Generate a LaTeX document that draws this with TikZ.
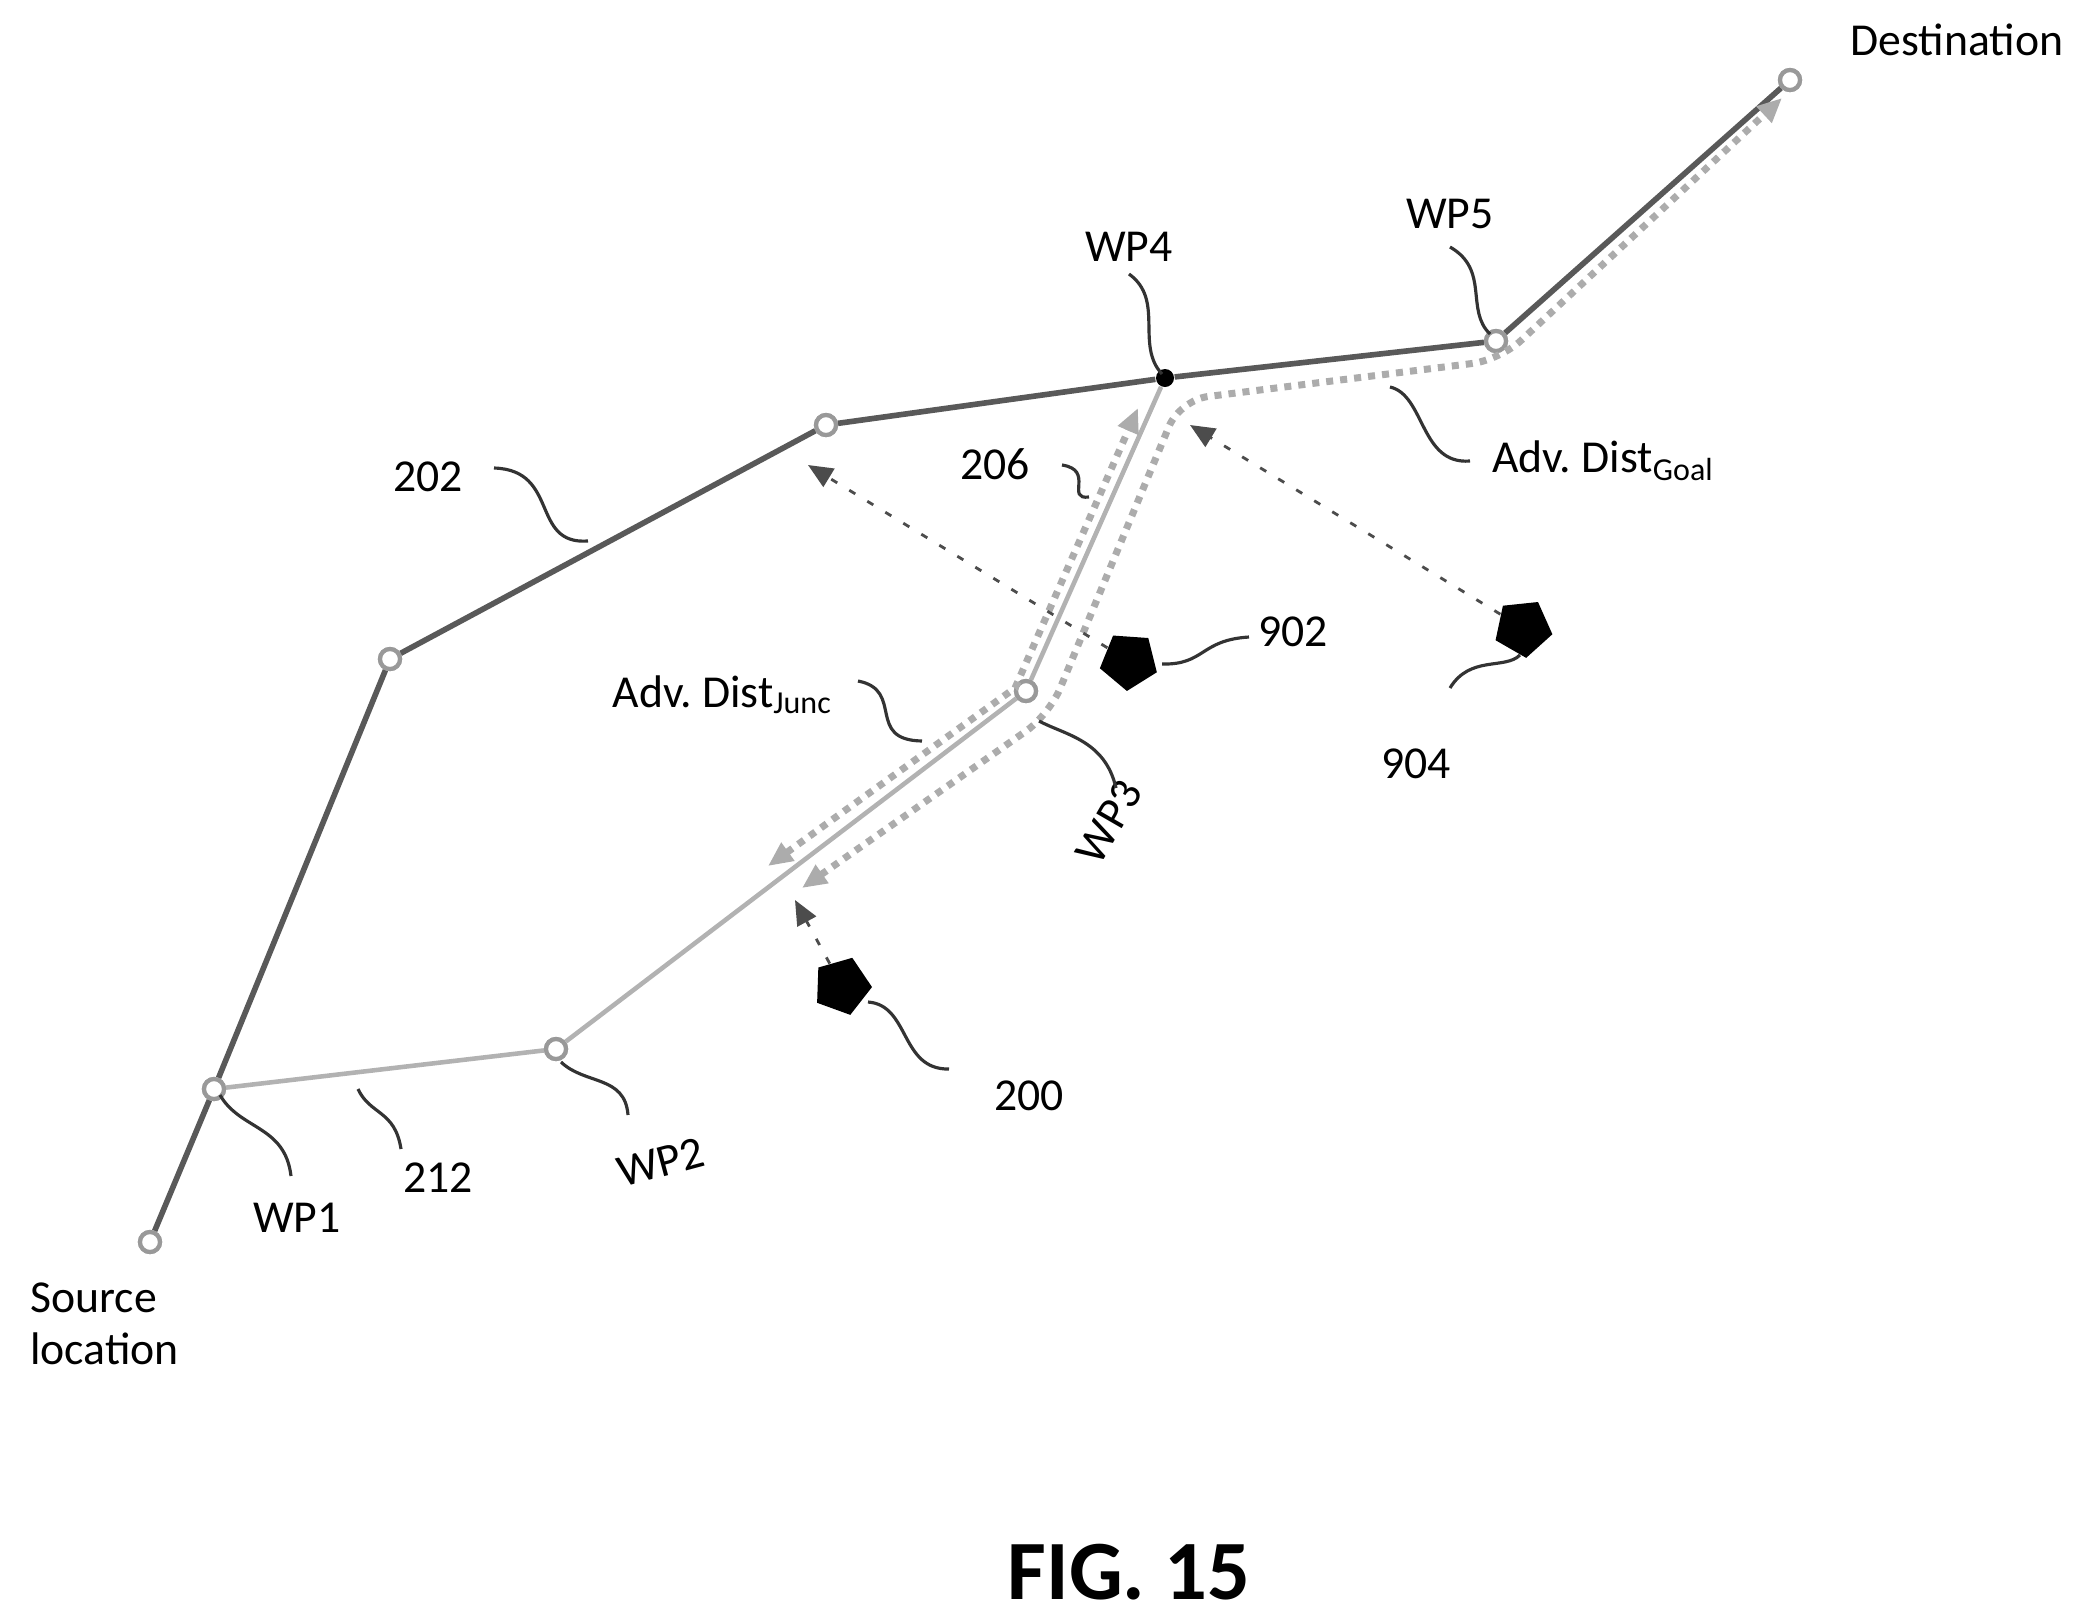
\documentclass[tikz,border=0pt]{standalone}
\usepackage{fontspec}
\setmainfont{Carlito}
\usetikzlibrary{shapes.geometric,arrows.meta}
\begin{document}
\begin{tikzpicture}
        [x=0.01cm,y=-0.01cm,
        wp/.style={circle,minimum size=0.2cm,inner sep=0pt,draw=gray!80,line width=1.2pt,fill=white},
        road/.style={gray!70!black,line width=1.6pt},
        side/.style={gray!60,line width=1.3pt},
        adv/.style={gray!65,line width=2pt,dash pattern=on 2pt off 2pt,{Triangle[length=7pt,width=6pt]}-{Triangle[length=7pt,width=6pt]}},
        hint/.style={black!70,line width=0.8pt,dash pattern=on 2pt off 4pt,-{Triangle[length=7pt,width=6pt]}},
        car/.style={regular polygon,regular polygon sides=5,fill=black,minimum size=0.6cm,inner sep=0pt},
        lead/.style={black!80,line width=0.9pt},
        lbl/.style={font=\fontsize{13}{15}\selectfont}]
        \useasboundingbox (0,0) rectangle (2084,1620);
        % waypoints
        \node[wp] (src) at (150,1242) {};
        \node[wp] (wp1) at (214,1089) {};
        \node[wp] (na) at (390,659) {};
        \node[wp] (nb) at (826,425) {};
        \node[wp] (wp2) at (556,1049) {};
        \node[wp] (wp3) at (1026,691) {};
        \node[wp] (wp5) at (1496,341) {};
        \node[wp] (dst) at (1790,80) {};
        \node[circle,fill=black,minimum size=0.18cm,inner sep=0pt] (wp4) at (1165,378) {};
        % roads
        \draw[road] (src) -- (wp1) -- (na) -- (nb) -- (wp4) -- (wp5) -- (dst);
        \draw[side] (wp1) -- (wp2) -- (wp3) -- (wp4);
        \foreach \n in {src,wp1,na,nb,wp2,wp3,wp5,dst}
            \node[wp] at (\n) {};
        % advance distances
        \coordinate (jl0) at (768,866);
        \coordinate (jl1) at (1015,688);
        \coordinate (jl2) at (1138,408);
        \coordinate (jr0) at (802,888);
        \coordinate (jr1) at (1049,715);
        \coordinate (jr2) at (1180,400);
        \coordinate (gr1) at (1500,360);
        \coordinate (gr2) at (1782,98);
        \draw[adv] (jl0) -- (jl1) -- (jl2);
        \draw[adv,rounded corners=8pt] (jr0) -- (jr1) -- (jr2) -- (gr1) -- (gr2);
        % vehicles
        \node[car,rotate=-20] (v200) at (842,986) {};
        \node[car,rotate=-40] (v902) at (1129,661) {};
        \node[car,rotate=-30] (v904) at (1523,628) {};
        \coordinate (t200) at (795,900);
        \coordinate (t902) at (808,465);
        \coordinate (t904) at (1190,425);
        \draw[hint] (v200) -- (t200);
        \draw[hint] (v902) -- (t902);
        \draw[hint] (v904) -- (t904);
        % labels
        \node[lbl] (lDst) at (1957,40) {Destination};
        \node[lbl] (lWP5) at (1450,214) {WP5};
        \node[lbl] (lWP4) at (1129,247) {WP4};
        \node[lbl] (l202) at (428,477) {202};
        \node[lbl] (l206) at (995,464) {206};
        \node[lbl,anchor=west] (lGoal) at (1480,461) {Adv.\ Dist\textsubscript{Goal}};
        \node[lbl] (l902) at (1293,632) {902};
        \node[lbl] (l904) at (1416,764) {904};
        \node[lbl,anchor=east] (lJunc) at (845,695) {Adv.\ Dist\textsubscript{Junc}};
        \node[lbl,rotate=60] (lWP3) at (1109,822) {WP3};
        \node[lbl] (l200) at (1029,1096) {200};
        \node[lbl,rotate=15] (lWP2) at (661,1162) {WP2};
        \node[lbl] (l212) at (438,1178) {212};
        \node[lbl] (lWP1) at (297,1218) {WP1};
        \node[lbl,align=left,anchor=north west] (lSrc) at (18,1270) {Source\\location};
        \node[font=\fontsize{24}{28}\selectfont\bfseries] (fig) at (1129,1572) {FIG. 15};
        % leaders
        \draw[lead] (494,468) .. controls (560,470) and (530,545) .. (588,541);
        \draw[lead] (1062,465) .. controls (1095,470) and (1065,500) .. (1089,497);
        \draw[lead] (1129,274) .. controls (1165,300) and (1135,345) .. (1162,374);
        \draw[lead] (1450,247) .. controls (1490,270) and (1465,310) .. (1490,334);
        \draw[lead] (1470,461) .. controls (1420,465) and (1425,395) .. (1390,387);
        \draw[lead] (1249,637) .. controls (1200,640) and (1205,665) .. (1162,664);
        \draw[lead] (1450,688) .. controls (1470,655) and (1505,670) .. (1520,655);
        \draw[lead] (858,681) .. controls (905,690) and (865,740) .. (922,741);
        \draw[lead] (1116,788) .. controls (1105,740) and (1065,735) .. (1039,721);
        \draw[lead] (949,1069) .. controls (900,1070) and (910,1005) .. (868,1002);
        \draw[lead] (628,1115) .. controls (625,1075) and (585,1085) .. (561,1062);
        \draw[lead] (401,1149) .. controls (395,1110) and (370,1115) .. (358,1089);
        \draw[lead] (291,1176) .. controls (285,1125) and (240,1130) .. (220,1095);
\end{tikzpicture}
\end{document}
